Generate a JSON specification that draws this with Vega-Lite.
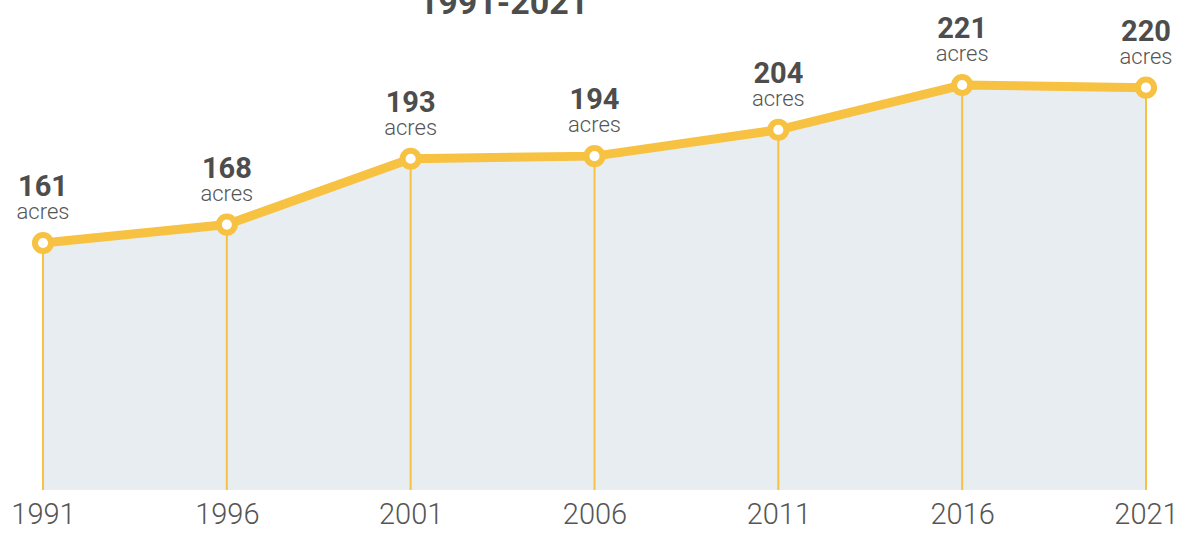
{
  "$schema": "https://vega.github.io/schema/vega-lite/v6.json",
  "autosize": "none",
  "width": 1103,
  "height": 470,
  "padding": {"left": 43, "top": 20, "right": 52, "bottom": 43},
  "background": "white",
  "config": {"view": {"stroke": null}, "font": "Roboto"},
  "title": {"text": "1991-2021", "fontSize": 34, "fontWeight": "bold", "color": "#4d4d4d", "font": "Roboto", "anchor": "middle", "frame": "group", "dx": -91, "baseline": "alphabetic", "offset": -33},
  "data": {"values": [
    {"year": 1991, "acres": 161},
    {"year": 1996, "acres": 168},
    {"year": 2001, "acres": 193},
    {"year": 2006, "acres": 194},
    {"year": 2011, "acres": 204},
    {"year": 2016, "acres": 221},
    {"year": 2021, "acres": 220}
  ]},
  "encoding": {
    "x": {"field": "year", "type": "quantitative", "scale": {"domain": [1991, 2021], "nice": false, "zero": false},
      "axis": {"values": [1991, 1996, 2001, 2006, 2011, 2016, 2021], "format": "d", "title": null, "domain": false, "ticks": false, "grid": false, "labelFontSize": 29, "labelFontWeight": 300, "labelColor": "#555555", "labelPadding": 10, "labelFont": "Roboto", "labelFlush": false}},
    "y": {"field": "acres", "type": "quantitative", "scale": {"domain": [67.2, 245.7], "nice": false, "zero": false}, "axis": null}
  },
  "layer": [
    {"mark": {"type": "area", "color": "#e8edf2"}, "encoding": {"y2": {"datum": 67.2}}},
    {"mark": {"type": "rule", "color": "#f7c142", "strokeWidth": 2}, "encoding": {"y2": {"datum": 67.2}}},
    {"mark": {"type": "line", "color": "#f7c142", "strokeWidth": 9}},
    {"mark": {"type": "point", "filled": true, "fill": "white", "stroke": "#f7c142", "strokeWidth": 6, "size": 260, "opacity": 1}},
    {"mark": {"type": "text", "baseline": "alphabetic", "dy": -47, "fontSize": 29, "fontWeight": "bold", "color": "#4d4d4d", "font": "Roboto"}, "encoding": {"text": {"field": "acres", "type": "quantitative"}}},
    {"mark": {"type": "text", "baseline": "alphabetic", "dy": -24, "fontSize": 22, "fontWeight": 300, "color": "#555555", "font": "Roboto", "text": "acres"}}
  ]
}
